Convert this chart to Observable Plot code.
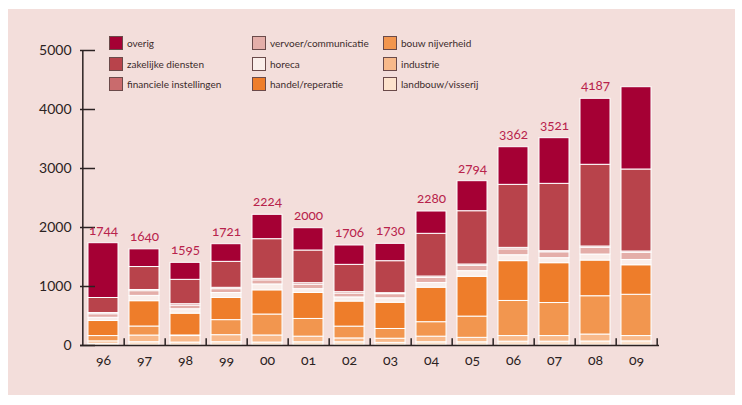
<!DOCTYPE html>
<html>
<head>
<meta charset="utf-8">
<script src="https://cdn.jsdelivr.net/npm/d3@7"></script>
<script src="https://cdn.jsdelivr.net/npm/@observablehq/plot@0.6"></script>
<style>
  body { margin: 0; background: #ffffff; font-family: Lato, "Open Sans", sans-serif; }
  #wrap { position: relative; width: 742px; height: 405px; overflow: hidden; }
  #bg { position: absolute; left: 8px; top: 9px; width: 727px; height: 386px; background: #f3dedb; }
  #chart { position: absolute; left: 0; top: 0; }
  .lg { position: absolute; font-size: 10px; color: #3b2b2b; display: flex; align-items: center; white-space: nowrap; height: 14px; }
  .lg .sw { width: 14px; height: 14px; box-sizing: border-box; border: 1px solid #6a4a4a; margin-right: 4px; flex: none; }
</style>
</head>
<body>
<div id="wrap">
  <div id="bg"></div>
  <div id="chart"></div>
  <div id="legend"></div>
</div>
<script>
// ---- data ----
const years = ["96","97","98","99","00","01","02","03","04","05","06","07","08","09"];

const landbouw   = [30, 56, 50, 56, 50, 55, 55, 45, 55, 55, 65, 65, 68, 70];
const industrie  = [40, 113, 110, 119, 120, 95, 65, 70, 95, 75, 95, 95, 118, 90];
const bouw       = [90, 153, 10, 255, 355, 300, 200, 165, 245, 360, 595, 560, 649, 700];
const handel     = [255, 429, 370, 375, 410, 440, 425, 445, 585, 675, 675, 675, 605, 500];
const horeca     = [55, 90, 75, 85, 100, 65, 70, 75, 80, 95, 100, 85, 102, 90];
const vervoer    = [60, 80, 60, 65, 70, 75, 65, 70, 85, 90, 100, 100, 113, 120];
const financiele = [20, 20, 25, 23, 25, 26, 24, 17, 24, 23, 25, 19, 23, 23];
const zakelijke  = [255, 389, 413, 440, 672, 554, 463, 542, 724, 903, 1068, 1141, 1385, 1390];
const overig     = [929, 300, 288, 299, 413, 378, 328, 294, 378, 509, 638, 774, 1118, 1395];

const valueLabels = ["1744","1640","1595","1721","2224","2000","1706","1730","2280","2794","3362","3521","4187"];
const yTicks = [0, 1000, 2000, 3000, 4000, 5000];

// stacking order, bottom to top
const sectors = ["landbouw/visserij","industrie","bouw nijverheid","handel/reperatie","horeca",
                 "vervoer/communicatie","financiele instellingen","zakelijke diensten","overig"];
const series = [landbouw, industrie, bouw, handel, horeca, vervoer, financiele, zakelijke, overig];
const colors = ["#fde3cc","#f8b98a","#f2964f","#ee7d2a","#faeeea","#e4aea9","#c96b6d","#b8434b","#a50034"];

// legend layout (columns)
const legendCols = [
  ["overig","zakelijke diensten","financiele instellingen"],
  ["vervoer/communicatie","horeca","handel/reperatie"],
  ["bouw nijverheid","industrie","landbouw/visserij"]
];

// ---- build tables ----
const rows = years.flatMap((y, i) => sectors.map((s, k) => ({year: y, sector: s, value: series[k][i]})));
const labelRows = valueLabels.map((t, i) => ({year: years[i], label: t, total: d3.sum(series, a => a[i])}));

const W = 742, H = 405, mL = 80, mR = 83, mT = 50, mB = 60;
const step = (W - mL - mR) / years.length;
const ink = "#2b2222";

const chart = Plot.plot({
  width: W, height: H,
  marginLeft: mL, marginRight: mR, marginTop: mT, marginBottom: mB,
  style: {background: "transparent", fontFamily: "Lato, 'Open Sans', sans-serif", fontVariantNumeric: "oldstyle-nums", overflow: "visible"},
  x: {domain: years, paddingInner: 0.28, paddingOuter: 0.14, label: null},
  y: {domain: [0, 5000], label: null},
  color: {domain: sectors, range: colors},
  marks: [
    Plot.barY(rows, {x: "year", y: "value", fill: "sector", order: sectors, stroke: "white", strokeWidth: 1}),
    Plot.ruleY([0], {stroke: ink, strokeWidth: 1.5}),
    Plot.ruleX([years[0]], {dx: -step / 2, stroke: ink, strokeWidth: 1.5}),
    Plot.ruleX(years, {dx: step / 2, y1: 0, y2: 115, stroke: ink, strokeWidth: 1.5}),
    Plot.axisY({ticks: yTicks, tickSize: -15, tickPadding: 24, tickFormat: d => String(d), fontSize: 14, color: ink, strokeWidth: 1.5}),
    Plot.axisX({tickSize: 0, tickPadding: 10, fontSize: 14, color: ink}),
    Plot.text(labelRows, {x: "year", y: "total", text: "label", dy: -13, fill: "#b8234b", fontSize: 13.5})
  ]
});
document.getElementById("chart").appendChild(chart);

// ---- legend ----
const colX = [109, 252, 383];
const rowY = [36, 57, 77];
const legend = document.getElementById("legend");
legendCols.forEach((col, c) => col.forEach((name, r) => {
  const div = document.createElement("div");
  div.className = "lg";
  div.style.left = colX[c] + "px";
  div.style.top = rowY[r] + "px";
  const sw = document.createElement("span");
  sw.className = "sw";
  sw.style.background = colors[sectors.indexOf(name)];
  div.appendChild(sw);
  div.appendChild(document.createTextNode(name));
  legend.appendChild(div);
}));
</script>
</body>
</html>
